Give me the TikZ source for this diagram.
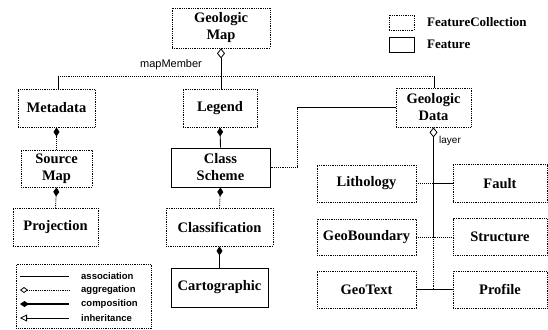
\documentclass[tikz,border=0pt]{standalone}
\usepackage{fontspec}
\setmainfont{Liberation Serif}
\setsansfont{Liberation Sans}
\usetikzlibrary{arrows.meta}
\begin{document}
\begin{tikzpicture}[x=1pt,y=-1pt,
  fc/.style={draw, densely dotted, line width=0.8pt, inner sep=0pt, align=center,
    font=\fontsize{14.5}{17}\selectfont\bfseries},
  ft/.style={draw, line width=1pt, inner sep=0pt, align=center,
    font=\fontsize{14.5}{17}\selectfont\bfseries},
  conn/.style={line width=0.9pt},
  dconn/.style={line width=0.9pt, densely dotted},
  agg/.style={{Diamond[open,length=10pt,width=8pt,line width=0.8pt]}-},
  comp/.style={{Diamond[length=9pt,width=6pt]}-},
  lbl/.style={font=\sffamily\fontsize{11}{13}\selectfont, inner sep=0pt},
  lgtext/.style={font=\sffamily\bfseries\fontsize{9.5}{11}\selectfont, inner sep=0pt, anchor=west},
  keytext/.style={font=\fontsize{13}{15}\selectfont\bfseries, inner sep=0pt, anchor=west}
]
\useasboundingbox (0,0) rectangle (548,329);

% boxes
\node[fc, minimum width=98pt, minimum height=40pt] (gmap) at (221,28) {Geologic\\Map};
\node[fc, minimum width=77pt, minimum height=38pt] (meta) at (56.5,108) {Metadata};
\node[fc, minimum width=74pt, minimum height=38pt] (legend) at (220,108) {Legend};
\node[fc, minimum width=75pt, minimum height=39pt] (gdata) at (433.5,107.5) {Geologic\\Data};
\node[fc, minimum width=71pt, minimum height=37pt] (smap) at (56.5,168.5) {Source\\Map};
\node[ft, minimum width=99pt, minimum height=39pt] (cscheme) at (220.5,167.5) {Class\\Scheme};
\node[fc, minimum width=85pt, minimum height=38pt] (proj) at (55.5,227) {Projection};
\node[fc, minimum width=107pt, minimum height=38pt] (classif) at (219.5,227) {Classification};
\node[ft, minimum width=97pt, minimum height=39pt] (carto) at (219.5,287.5) {Cartographic};
\node[fc, minimum width=99pt, minimum height=37pt] (litho) at (366.5,183.5) {Lithology};
\node[fc, minimum width=94pt, minimum height=38pt] (fault) at (500,183.5) {Fault};
\node[fc, minimum width=99pt, minimum height=36pt] (geob) at (366.5,237) {GeoBoundary};
\node[fc, minimum width=94pt, minimum height=37pt] (struct) at (500,237) {Structure};
\node[fc, minimum width=99pt, minimum height=37pt] (geotext) at (366.5,289.5) {GeoText};
\node[fc, minimum width=94pt, minimum height=37pt] (profile) at (500,289.5) {Profile};

% key top right
\node[draw, densely dotted, line width=0.8pt, minimum width=25pt, minimum height=15pt, inner sep=0pt] (fcbox) at (401.5,22.5) {};
\node[keytext] (fctext) at (427,22.5) {FeatureCollection};
\node[draw, line width=0.8pt, minimum width=25pt, minimum height=15pt, inner sep=0pt] (ftbox) at (401.5,44.5) {};
\node[keytext] (fttext) at (427,44.5) {Feature};

% mapMember bus
\coordinate (busL) at (58,76);
\coordinate (busR) at (434,76);
\draw[agg, conn] (gmap.south) -- (gmap.south |- legend.north);
\draw[dconn] (busL) -- (busR);
\draw[conn] (busL) -- (busL |- meta.north);
\draw[conn] (busR) -- (busR |- gdata.north);
\node[lbl] (mm) at (171,65) {mapMember};

% compositions
\draw[comp, dconn] (meta.south) -- (smap.north);
\draw[comp, conn] (legend.south) -- (cscheme.north);
\draw[comp, dconn] (smap.south) -- (proj.north);
\draw[comp, dconn] (cscheme.south) -- (classif.north);
\draw[comp, conn] (classif.south) -- (carto.north);

% geologic data to class scheme
\coordinate (k1) at (297,107.5);
\coordinate (k2) at (297,167);
\draw[conn] (gdata.west) -- (k1);
\draw[dconn] (k1) -- (k2) -- (cscheme.east |- k2);

% layer
\coordinate (lb) at (433.5,237);
\draw[agg, conn] (gdata.south) -- (lb);
\draw[dconn] (lb) -- (lb |- geotext.east);
\node[lbl, font=\sffamily\fontsize{10}{12}\selectfont] (layer) at (450,141) {layer};
\draw[dconn] (litho.east) -- (lb |- litho.east);
\draw[conn] (lb |- litho.east) -- (fault.west);
\draw[dconn] (geob.east) -- (struct.west);
\draw[conn] (geotext.east) -- (profile.west);

% line key
\node[draw, densely dotted, line width=0.8pt, minimum width=135pt, minimum height=64pt, inner sep=0pt, anchor=north west] (key) at (16,264) {};
\coordinate (a1) at (20,276); \coordinate (a2) at (69,276);
\coordinate (b1) at (20,290); \coordinate (b2) at (69,290);
\coordinate (c1) at (20,304); \coordinate (c2) at (69,304);
\coordinate (d1) at (20,318); \coordinate (d2) at (69,318);
\draw[line width=0.8pt] (a1) -- (a2);
\draw[{Diamond[open,length=8pt,width=6pt,line width=0.8pt]}-, line width=0.8pt, densely dotted] (b1) -- (b2);
\draw[{Diamond[length=9pt,width=6pt]}-, line width=1.2pt] (c1) -- (c2);
\draw[{Triangle[open,length=7pt,width=7pt,line width=0.8pt]}-, line width=1pt] (d1) -- (d2);
\node[lgtext] (ta) at (81,276) {association};
\node[lgtext] (tb) at (81,290) {aggregation};
\node[lgtext] (tc) at (81,304) {composition};
\node[lgtext] (td) at (81,318) {inheritance};
\end{tikzpicture}
\end{document}
